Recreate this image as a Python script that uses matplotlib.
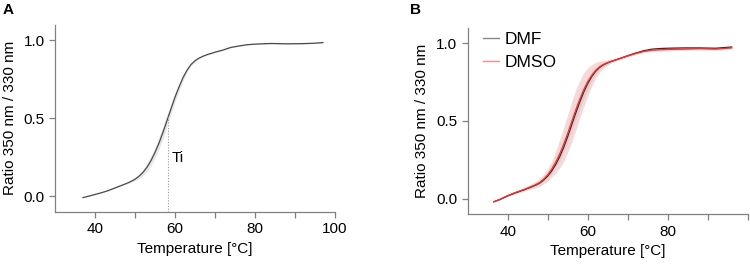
import numpy as np
import matplotlib.pyplot as plt
from matplotlib.lines import Line2D

plt.rcParams["font.family"] = ["Liberation Sans", "DejaVu Sans"]
plt.rcParams["font.size"] = 11

# Panel A: single melting curve with its spread
temp_a = [37, 39, 41, 43, 45, 47, 48, 49, 50, 51, 52, 53, 54, 55, 56, 57, 58, 59,
          60, 61, 62, 63, 64, 65, 66, 67, 68, 70, 72, 74, 76, 78, 80, 84, 88, 92, 95, 97]
ratio_a = [-0.01, 0.003, 0.017, 0.032, 0.052, 0.072, 0.082, 0.094, 0.108, 0.127,
           0.152, 0.185, 0.228, 0.28, 0.34, 0.41, 0.485, 0.56, 0.635, 0.70, 0.76,
           0.808, 0.845, 0.869, 0.886, 0.898, 0.908, 0.924, 0.938, 0.955, 0.964,
           0.972, 0.976, 0.98, 0.978, 0.979, 0.982, 0.986]
sd_a = [0.002, 0.002, 0.002, 0.002, 0.003, 0.004, 0.005, 0.007, 0.01, 0.014, 0.02,
        0.026, 0.032, 0.036, 0.04, 0.04, 0.038, 0.034, 0.03, 0.025, 0.02, 0.014, 0.01,
        0.007, 0.005, 0.004, 0.003, 0.003, 0.003, 0.003, 0.003, 0.003, 0.003, 0.003,
        0.003, 0.003, 0.003, 0.003]
ti_temp = 58.3
ti_ratio = 0.52

# Panel B: DMF vs DMSO
temp_b = [36.5, 38, 40, 42, 44, 46, 47, 48, 49, 50, 51, 52, 53, 54, 55, 56, 57, 58,
          59, 60, 61, 62, 63, 64, 65, 66, 67, 68, 70, 72, 74, 76, 78, 80, 84, 88, 92, 96]
dmf = [-0.02, -0.006, 0.018, 0.038, 0.056, 0.076, 0.087, 0.10, 0.12, 0.145, 0.178,
       0.22, 0.27, 0.33, 0.40, 0.475, 0.55, 0.62, 0.685, 0.74, 0.785, 0.82, 0.845,
       0.862, 0.874, 0.884, 0.893, 0.902, 0.92, 0.937, 0.952, 0.962, 0.966, 0.968,
       0.97, 0.97, 0.968, 0.976]
dmso = [-0.02, -0.005, 0.02, 0.04, 0.058, 0.079, 0.09, 0.104, 0.126, 0.153, 0.19,
        0.235, 0.288, 0.35, 0.42, 0.495, 0.57, 0.638, 0.70, 0.752, 0.793, 0.826,
        0.849, 0.865, 0.876, 0.885, 0.893, 0.901, 0.918, 0.934, 0.947, 0.955, 0.958,
        0.96, 0.962, 0.965, 0.962, 0.97]
sd_dmf = [0.003, 0.003, 0.003, 0.004, 0.005, 0.006, 0.007, 0.008, 0.01, 0.012, 0.016,
          0.02, 0.026, 0.032, 0.038, 0.042, 0.045, 0.045, 0.042, 0.036, 0.028, 0.02,
          0.014, 0.01, 0.008, 0.006, 0.005, 0.005, 0.005, 0.005, 0.005, 0.005, 0.005,
          0.005, 0.005, 0.005, 0.005, 0.005]
sd_dmso = [0.004, 0.005, 0.006, 0.008, 0.012, 0.016, 0.02, 0.025, 0.032, 0.04, 0.05,
           0.07, 0.09, 0.11, 0.12, 0.13, 0.13, 0.12, 0.11, 0.09, 0.07, 0.05, 0.035,
           0.025, 0.015, 0.01, 0.009, 0.008, 0.008, 0.008, 0.008, 0.008, 0.01, 0.01,
           0.008, 0.008, 0.008, 0.008]

spine_c = "#808080"


def style_axes(ax, major, minor):
    for s in ["top", "right"]:
        ax.spines[s].set_visible(False)
    for s in ["left", "bottom"]:
        ax.spines[s].set_color(spine_c)
        ax.spines[s].set_linewidth(0.9)
    ax.set_xlim(30, 100)
    ax.set_ylim(-0.1, 1.1)
    ax.set_xticks(major)
    ax.set_xticks(minor, minor=True)
    ax.set_yticks([0.0, 0.5, 1.0])
    ax.set_yticklabels(["0.0", "0.5", "1.0"])
    ax.tick_params(which="both", direction="out", length=4, width=0.9,
                   color=spine_c, labelcolor="black", labelsize=11)
    ax.set_xlabel("Temperature [°C]", fontsize=11, labelpad=4)
    ax.set_ylabel("Ratio 350 nm / 330 nm", fontsize=11, labelpad=5)


fig = plt.figure(figsize=(7.5, 2.66), dpi=100)
W, H = 750, 266

# --- Panel A
ax1 = fig.add_axes([55 / W, 1 - 211.6 / H, 280 / W, 186.8 / H])
ta = np.array(temp_a)
ra = np.array(ratio_a)
sa = np.array(sd_a)
ax1.fill_between(ta, ra - sa, ra + sa, color="#d8d8d8", alpha=0.6, lw=0)
ax1.plot(ta, ra, color="#4a4a4a", lw=0.9)
ax1.plot([ti_temp, ti_temp], [-0.1, ti_ratio], ls=(0, (1, 1.5)), color="#999999", lw=0.8)
ax1.text(ti_temp + 0.9, 0.245, "Ti", fontsize=11, va="center", ha="left")
style_axes(ax1, [40, 60, 80, 100], [50, 70, 90])

# --- Panel B
ax2 = fig.add_axes([467.7 / W, 1 - 214.2 / H, 280 / W, 186.5 / H])
tb = np.array(temp_b)
y_dmf = np.array(dmf)
y_dmso = np.array(dmso)
ax2.fill_between(tb, y_dmf - np.array(sd_dmf), y_dmf + np.array(sd_dmf),
                 color="#d0d0d0", alpha=0.5, lw=0)
ax2.fill_between(tb, y_dmso - np.array(sd_dmso), y_dmso + np.array(sd_dmso),
                 color="#e8a0a0", alpha=0.4, lw=0)
ax2.plot(tb, y_dmf, color="#303030", lw=0.9)
ax2.plot(tb, y_dmso, color="#ff2a2a", lw=0.9)
style_axes(ax2, [40, 60, 80], [50, 70, 90, 100])

handles = [Line2D([], [], color="#888888", lw=1.0),
           Line2D([], [], color="#ff8a8a", lw=1.0)]
ax2.legend(handles, ["DMF", "DMSO"], loc="upper left", bbox_to_anchor=(0.0, 1.06),
           frameon=False, fontsize=12.5, handlelength=0.9, handletextpad=0.3,
           labelspacing=0.45)

fig.text(3 / W, 1 - 14 / H, "A", fontsize=11, fontweight="bold")
fig.text(410 / W, 1 - 14 / H, "B", fontsize=11, fontweight="bold")

fig.savefig("out.png", dpi=100)
